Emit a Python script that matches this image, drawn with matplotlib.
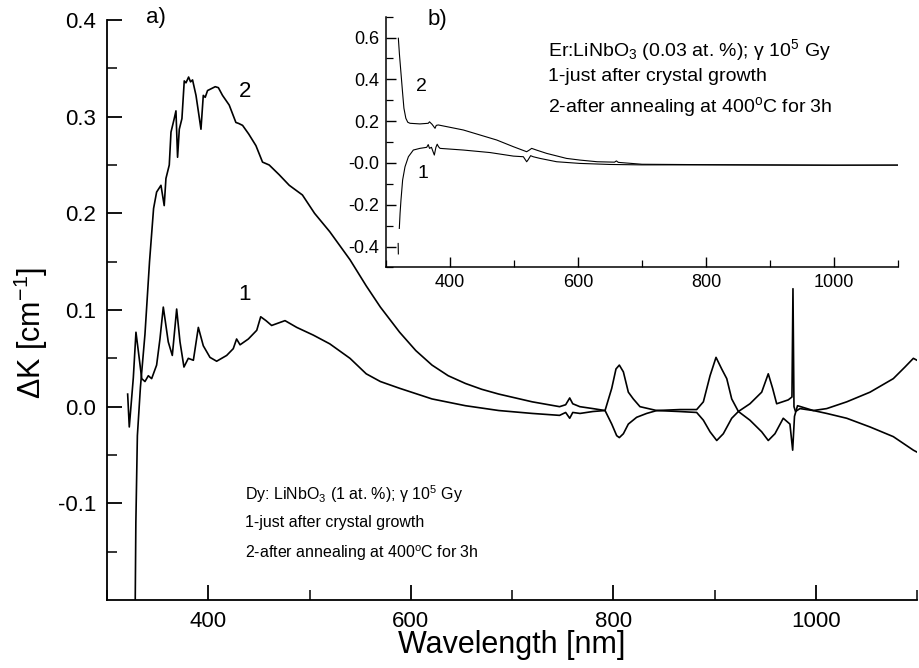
import numpy as np
import matplotlib
matplotlib.use("Agg")
import matplotlib.pyplot as plt
from matplotlib.ticker import FixedLocator, FixedFormatter

plt.rcParams['font.family'] = ['Liberation Sans', 'DejaVu Sans']
plt.rcParams['mathtext.fontset'] = 'custom'
plt.rcParams['mathtext.rm'] = 'Liberation Sans'
plt.rcParams['mathtext.it'] = 'Liberation Sans:italic'
plt.rcParams['mathtext.bf'] = 'Liberation Sans:bold'

# ---------------- main panel a) : Dy:LiNbO3 ----------------
a2_wl = [327.5, 328.5, 330, 333, 337.5, 342, 346, 349, 353.3, 356.5, 358.2, 361.5, 363.2, 366.4,
         368.1, 369.7, 371.4, 374, 376.3, 378, 380.6, 382.5, 384.5, 387.9, 391, 392.8, 395.1,
         397, 399.3, 406.9, 410, 414.1, 420.7, 427.3, 430, 433.9, 440, 447.1, 453.6, 460.2,
         470, 480, 493, 505, 520, 540, 556, 570, 589, 605, 621, 637, 654, 670, 687, 720, 747,
         753, 757, 760, 767, 780, 791.9, 798.5, 802.7, 806, 810, 814.9, 819.8, 826.4, 842.9,
         865.9, 882.4, 889, 895.6, 901.5, 907.1, 912.1, 917, 923.6, 935, 946.6, 953.1, 957.4,
         961.4, 972.8, 976.5, 977.5, 978.5, 980, 984.4, 997.6, 1010.8, 1030.6, 1053.6, 1076.6,
         1088.1, 1096.4, 1100]
a2_val = [-0.25, -0.12, -0.03, 0.02, 0.075, 0.15, 0.205, 0.222, 0.229, 0.208, 0.236, 0.25, 0.284,
          0.298, 0.306, 0.258, 0.287, 0.298, 0.337, 0.335, 0.341, 0.336, 0.338, 0.322, 0.300,
          0.287, 0.322, 0.320, 0.327, 0.331, 0.330, 0.322, 0.312, 0.294, 0.293, 0.291, 0.282,
          0.270, 0.253, 0.250, 0.240, 0.229, 0.219, 0.200, 0.181, 0.152, 0.125, 0.103, 0.077,
          0.058, 0.043, 0.032, 0.024, 0.018, 0.013, 0.005, 0.0, 0.002, 0.009, 0.003, 0.0,
          -0.002, -0.004, 0.019, 0.039, 0.043, 0.036, 0.015, 0.008, 0.0, -0.004, -0.003, -0.003,
          0.005, 0.032, 0.051, 0.039, 0.029, 0.008, -0.005, 0.003, 0.015, 0.034, 0.019, 0.003,
          0.007, 0.010, 0.122, 0.0, -0.005, -0.002, -0.004, -0.002, 0.005, 0.015, 0.029, 0.041,
          0.050, 0.048]

a1_wl = [320.4, 322, 326, 328.6, 331, 334.3, 337.5, 340.8, 344.1, 349, 352.3, 355.6, 360.5, 364.5,
         368.8, 372.1, 376, 380.3, 385.3, 390.2, 395.1, 401.7, 408.3, 418.2, 424.7, 428, 431.4,
         439.6, 447.9, 451.8, 457, 462.6, 475.8, 487.4, 503.8, 520, 540, 556, 570, 589, 621,
         654, 687, 720, 747, 753, 757, 760, 767.2, 780, 791.9, 798.5, 803.4, 806, 810, 814.9,
         823.1, 833, 843, 865, 882.4, 889, 895.6, 902.2, 908.7, 917, 923.6, 935, 946.6, 953.1,
         959.7, 967.9, 974.5, 977.2, 979, 982, 997.6, 1010.8, 1030.6, 1053.6, 1076.6, 1096.4, 1100]
a1_val = [0.013, -0.021, 0.03, 0.077, 0.057, 0.029, 0.026, 0.032, 0.029, 0.043, 0.070, 0.103,
          0.067, 0.053, 0.101, 0.067, 0.041, 0.050, 0.048, 0.082, 0.063, 0.051, 0.047, 0.053,
          0.060, 0.070, 0.064, 0.070, 0.079, 0.093, 0.089, 0.084, 0.089, 0.082, 0.074, 0.065,
          0.050, 0.034, 0.026, 0.019, 0.008, 0.001, -0.004, -0.007, -0.009, -0.006, -0.012,
          -0.006, -0.007, -0.005, -0.004, -0.018, -0.030, -0.032, -0.028, -0.018, -0.011,
          -0.007, -0.004, -0.005, -0.006, -0.014, -0.026, -0.035, -0.028, -0.012, -0.005,
          -0.014, -0.026, -0.035, -0.028, -0.012, -0.018, -0.045, -0.01, 0.001, -0.004, -0.007,
          -0.012, -0.021, -0.031, -0.045, -0.047]

# ---------------- inset b) : Er:LiNbO3 ----------------
b2_wl = [319.3, 321, 323, 326, 328, 331, 334, 337.5, 353, 366, 368, 372, 376.6, 378.5, 381.7,
         394.8, 420.8, 446.9, 473, 499, 519.8, 524, 527.6, 535, 551, 582, 603, 630, 657, 660,
         663, 700, 800, 900, 1000, 1100]
b2_val = [0.597, 0.52, 0.445, 0.333, 0.262, 0.214, 0.195, 0.190, 0.187, 0.190, 0.197, 0.185,
          0.166, 0.180, 0.182, 0.174, 0.158, 0.134, 0.110, 0.078, 0.054, 0.062, 0.070, 0.062,
          0.046, 0.022, 0.014, 0.006, 0.004, 0.010, 0.003, -0.006, -0.008, -0.009, -0.010, -0.010]

b1_wl = [319.0, 319.3, np.nan, 320.8, 322, 323.4, 326, 329.7, 335, 342.7, 353, 363.6, 366, 368,
         371, 375.5, 378, 380, 382, 384.4, 420.8, 462.5, 499, 514.6, 519.8, 522, 526, 530,
         540.6, 566.7, 603, 650, 700, 800, 900, 1000, 1100]
b1_val = [-0.385, -0.435, np.nan, -0.313, -0.24, -0.177, -0.081, -0.018, 0.030, 0.062, 0.070,
          0.075, 0.088, 0.070, 0.075, 0.038, 0.075, 0.090, 0.078, 0.070, 0.062, 0.050, 0.033,
          0.030, 0.006, 0.015, 0.035, 0.030, 0.022, 0.006, -0.002, -0.007, -0.009, -0.009,
          -0.010, -0.011, -0.010]

W, H = 919, 668
fig = plt.figure(figsize=(W / 100, H / 100), dpi=100)

def box(l, r, t, b):
    return [l / W, 1 - b / H, (r - l) / W, (b - t) / H]

# main axes
ax = fig.add_axes(box(107, 917, 20, 600))
ax.plot(a2_wl, a2_val, color='black', lw=1.2)
ax.plot(a1_wl, a1_val, color='black', lw=1.2)
ax.set_xlim(300, 1100)
ax.set_ylim(-0.2, 0.4)
for s in ['top', 'right']:
    ax.spines[s].set_visible(False)
for s in ['left', 'bottom']:
    ax.spines[s].set_linewidth(1.3)
ax.xaxis.set_major_locator(FixedLocator([400, 600, 800, 1000]))
ax.xaxis.set_minor_locator(FixedLocator([300, 500, 700, 900, 1100]))
ax.yaxis.set_major_locator(FixedLocator([-0.1, 0.0, 0.1, 0.2, 0.3, 0.4]))
ax.yaxis.set_minor_locator(FixedLocator([-0.15, -0.05, 0.05, 0.15, 0.25, 0.35]))
ax.yaxis.set_major_formatter(FixedFormatter(['-0.1', '0.0', '0.1', '0.2', '0.3', '0.4']))
ax.tick_params(which='major', direction='in', length=11, width=1.3, labelsize=16, pad=8)
ax.tick_params(which='minor', direction='in', length=7, width=1.1)
ax.set_xlabel('Wavelength [nm]', fontsize=22)
ax.set_ylabel(r'ΔK [cm$^{-1}$]', fontsize=22)
ax.xaxis.set_label_coords(0.5, -0.052)
ax.yaxis.set_label_coords(-0.07, 0.46)

ax.text(436, 0.326, '2', fontsize=16, ha='center', va='center')
ax.text(436, 0.116, '1', fontsize=16, ha='center', va='center')
ax.text(436, -0.097, r'Dy: LiNbO$_3$ (1 at. %); γ 10$^5$ Gy', fontsize=11.5, ha='left', va='baseline')
ax.text(436, -0.125, '1-just after crystal growth', fontsize=11.5, ha='left', va='baseline')
ax.text(436, -0.157, r'2-after annealing at 400$^\mathrm{o}$C for 3h', fontsize=11.5, ha='left', va='baseline')
fig.text(146 / W, 1 - 18 / H, 'a)', fontsize=16, ha='left', va='center')

# inset axes
ai = fig.add_axes(box(386, 898, 16.7, 267.5))
ai.plot(b2_wl, b2_val, color='black', lw=0.8)
ai.plot(b1_wl, b1_val, color='black', lw=0.8)
ai.set_xlim(300, 1100)
ai.set_ylim(-0.5, 0.7)
ai.patch.set_alpha(0)
for s in ['top', 'right']:
    ai.spines[s].set_visible(False)
for s in ['left', 'bottom']:
    ai.spines[s].set_linewidth(1.1)
ai.xaxis.set_major_locator(FixedLocator([400, 600, 800, 1000]))
ai.xaxis.set_minor_locator(FixedLocator([300, 500, 700, 900, 1100]))
ai.yaxis.set_major_locator(FixedLocator([-0.4, -0.2, 0.0, 0.2, 0.4, 0.6]))
ai.yaxis.set_minor_locator(FixedLocator([-0.5, -0.3, -0.1, 0.1, 0.3, 0.5, 0.7]))
ai.yaxis.set_major_formatter(FixedFormatter(['-0.4', '-0.2', '-0.0', '0.2', '0.4', '0.6']))
ai.tick_params(which='major', direction='in', length=7, width=1.0, labelsize=13, pad=5)
ai.tick_params(which='minor', direction='in', length=5, width=0.9)
ai.text(354.7, 0.368, '2', fontsize=14, ha='center', va='center')
ai.text(357.8, -0.048, '1', fontsize=14, ha='center', va='center')
ai.text(553, 0.51, r'Er:LiNbO$_3$ (0.03 at. %); γ 10$^5$ Gy', fontsize=14, ha='left', va='baseline')
ai.text(553, 0.39, '1-just after crystal growth', fontsize=14, ha='left', va='baseline')
ai.text(553, 0.245, r'2-after annealing at 400$^\mathrm{o}$C for 3h', fontsize=14, ha='left', va='baseline')
fig.text(428 / W, 1 - 20 / H, 'b)', fontsize=16, ha='left', va='center')

fig.savefig('out.png', dpi=100)
